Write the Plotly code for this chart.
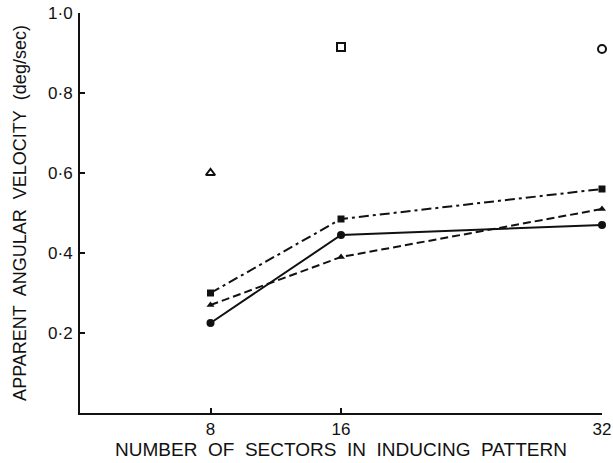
import plotly.graph_objects as go

# Data
sectors = [8, 16, 32]
square_filled = [0.30, 0.485, 0.56]   # dash-dot
triangle_filled = [0.27, 0.39, 0.51]  # dashed
circle_filled = [0.225, 0.445, 0.47]  # solid

open_x = [8, 16, 32]
open_y = [0.60, 0.915, 0.91]
open_symbols = ["triangle-up-open", "square-open", "circle-open"]

y_ticks = [0.2, 0.4, 0.6, 0.8, 1.0]
y_ticktext = ["0·2", "0·4", "0·6", "0·8", "1·0"]
x_ticks = [8, 16, 32]
x_ticktext = ["8", "16", "32"]

GAP = "\u00a0 "
x_title = GAP.join(["NUMBER", "OF", "SECTORS", "IN", "INDUCING", "PATTERN"])
y_title = GAP.join(["APPARENT", "ANGULAR", "VELOCITY", "(deg/sec)"])

font_family = "Liberation Sans, Arial, sans-serif"
ink = "#111111"

fig = go.Figure()
fig.add_trace(go.Scatter(
    x=sectors, y=square_filled, mode="lines+markers",
    line=dict(color=ink, width=2, dash="10px,4px,3px,4px"),
    marker=dict(symbol="square", size=7, color=ink),
    showlegend=False, cliponaxis=False))
fig.add_trace(go.Scatter(
    x=sectors, y=triangle_filled, mode="lines+markers",
    line=dict(color=ink, width=2, dash="8px,4px"),
    marker=dict(symbol="triangle-up", size=7, color=ink),
    showlegend=False, cliponaxis=False))
fig.add_trace(go.Scatter(
    x=sectors, y=circle_filled, mode="lines+markers",
    line=dict(color=ink, width=2),
    marker=dict(symbol="circle", size=8, color=ink),
    showlegend=False, cliponaxis=False))
fig.add_trace(go.Scatter(
    x=open_x, y=open_y, mode="markers",
    marker=dict(symbol=open_symbols, size=8, color=ink,
                line=dict(width=2, color=ink)),
    showlegend=False, cliponaxis=False))

fig.update_layout(
    width=613, height=463, autosize=False,
    margin=dict(l=80, r=11, t=13, b=50, autoexpand=False),
    paper_bgcolor="white", plot_bgcolor="white",
    font=dict(family=font_family, color=ink, size=18),
    xaxis=dict(
        range=[0, 32], tickvals=x_ticks, ticktext=x_ticktext,
        showgrid=False, zeroline=False, showline=True, linecolor=ink,
        linewidth=2, ticks="inside", ticklen=5, tickwidth=1.5, tickcolor=ink,
        tickfont=dict(size=17), automargin=False, ticklabeloverflow="allow",
        title=dict(text=x_title, font=dict(size=19), standoff=4),
    ),
    yaxis=dict(
        range=[0, 1.0], tickvals=y_ticks, ticktext=y_ticktext,
        showgrid=False, zeroline=False, showline=True, linecolor=ink,
        linewidth=2, ticks="inside", ticklen=5, tickwidth=1.5, tickcolor=ink,
        tickfont=dict(size=17), automargin=False, ticklabelstandoff=2,
        ticklabeloverflow="allow",
        title=dict(text=y_title, font=dict(size=18), standoff=17),
    ),
)

fig.write_html("out.html", config={"responsive": False, "displayModeBar": False},
               post_script="document.body.style.margin='0';document.body.style.overflow='hidden';")
